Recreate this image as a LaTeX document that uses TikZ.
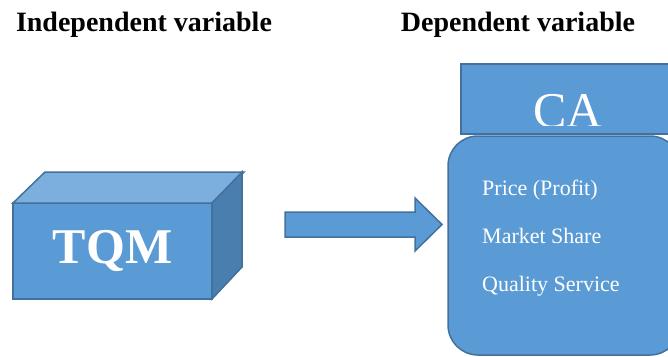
\documentclass[tikz,border=0pt]{standalone}
\usepackage{fontspec}
\setmainfont{Liberation Serif}
\usetikzlibrary{positioning}

\definecolor{boxblue}{HTML}{5B9BD5}
\definecolor{boxline}{HTML}{41719C}
\definecolor{topblue}{HTML}{7DAFDE}
\definecolor{sideblue}{HTML}{4A7EAF}

\tikzset{
  heading/.style={font=\fontsize{28}{32}\selectfont\bfseries, text=black},
  face/.style={fill=boxblue, draw=boxline, line width=1.5pt, outer sep=0pt},
  itemtext/.style={font=\fontsize{22}{26}\selectfont, text=white, anchor=base west, inner sep=0pt},
}

\begin{document}
\begin{tikzpicture}[x=1pt, y=-1pt]
    \clip (0,0) rectangle (668,356);

    % Headings
    \node[heading] (indep) at (144,25) {Independent variable};
    \node[heading] (dep) at (518,25) {Dependent variable};

    % Independent variable: TQM block
    \node[face, minimum width=199pt, minimum height=96pt, text=white,
          font=\fontsize{50}{54}\selectfont\bfseries] (tqm) at (112.5,251) {TQM};
    \draw[face, fill=topblue] (tqm.north west) -- ++(32,-31) -- ++(199,0)
        -- (tqm.north east) -- cycle;
    \draw[face, fill=sideblue] (tqm.north east) -- ++(30,-31) -- ++(0,95)
        -- (tqm.south east) -- cycle;

    % Block arrow
    \draw[face] (285,212) -- (415,212) -- (415,198) -- (442,224.5)
        -- (415,251) -- (415,237) -- (285,237) -- cycle;

    % Dependent variable: CA
    \node[face, anchor=north west, minimum width=240pt, minimum height=70pt] (ca) at (461,64) {};
    \begin{scope}
        \clip (461,64) rectangle (668,125);
        \node[font=\fontsize{50}{54}\selectfont, text=white, anchor=base, inner sep=0pt]
            (calabel) at (568,127) {CA};
    \end{scope}
    \node[face, rounded corners=30pt, anchor=north west, minimum width=232pt,
          minimum height=219pt] (cabody) at (448,136) {};
    \node[itemtext] (price) at (482,195) {Price (Profit)};
    \node[itemtext] (share) at (482,243) {Market Share};
    \node[itemtext] (quality) at (482,291) {Quality Service};
\end{tikzpicture}
\end{document}
